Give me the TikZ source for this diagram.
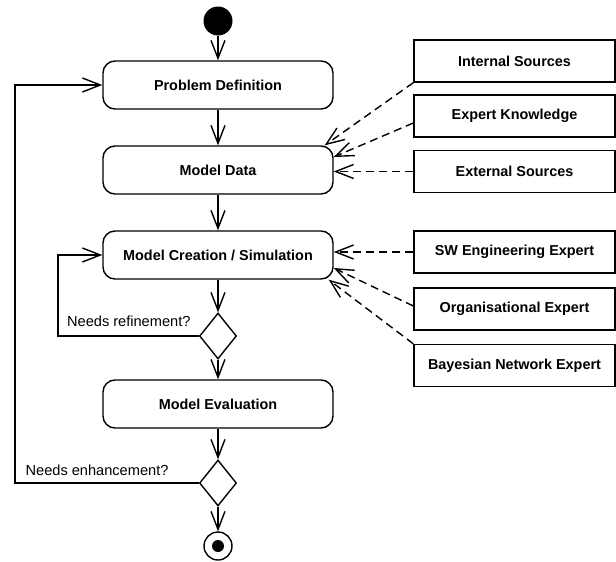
\documentclass[tikz,border=0pt]{standalone}
\usepackage{fontspec}
\setmainfont{Liberation Sans}
\usetikzlibrary{arrows.meta,shapes.geometric}

\begin{document}
\begin{tikzpicture}[x=1pt,y=-1pt,
  txt/.style={font=\fontsize{14.6}{16}\selectfont},
  act/.style={draw, line width=1.4pt, rounded corners=12pt,
    minimum width=230pt, minimum height=48pt,
    font=\fontsize{14.4}{16}\selectfont\bfseries},
  src/.style={draw, line width=1.4pt, minimum width=201pt, minimum height=42pt,
    font=\fontsize{14.4}{16}\selectfont\bfseries},
  dec/.style={draw, diamond, line width=1.4pt, minimum width=37pt,
    minimum height=46pt, inner sep=0pt},
  flow/.style={line width=1.4pt,
    -{Straight Barb[length=18pt,width=14pt,line width=1.4pt]}},
  dep/.style={flow, dash pattern=on 8pt off 5pt},
  ]
  \useasboundingbox (0,0) rectangle (616,562);
  \fill[white] (0,0) rectangle (616,562);

  % main activity flow
  \node[circle, fill, minimum size=29pt, inner sep=0pt] (start) at (218,21) {};
  \node[act] (pd) at (218,85)  {Problem Definition};
  \node[act] (md) at (218,170) {Model Data};
  \node[act] (mc) at (218,255) {Model Creation / Simulation};
  \node[dec] (d1) at (218,336) {};
  \node[act] (me) at (218,404) {Model Evaluation};
  \node[dec] (d2) at (218,483) {};
  \node[circle, draw, line width=1.4pt, minimum size=28pt, inner sep=0pt] (fin) at (218,546) {};
  \node[circle, fill, minimum size=12pt, inner sep=0pt] (finin) at (fin) {};

  % input sources
  \node[src] (is) at (514.5,61)    {Internal Sources};
  \node[src] (ek) at (514.5,116)   {Expert Knowledge};
  \node[src] (es) at (514.5,171.5) {External Sources};
  \node[src] (sw) at (514.5,252)   {SW Engineering Expert};
  \node[src] (og) at (514.5,309)   {Organisational Expert};
  \node[src] (bn) at (514.5,365.5) {Bayesian Network Expert};

  % loop-back columns
  \coordinate (lx1) at (58,0);
  \coordinate (lx2) at (15,0);

  \draw[flow] (start) -- (pd);
  \draw[flow] (pd) -- (md);
  \draw[flow] (md) -- (mc);
  \draw[flow] (mc) -- (d1.north);
  \draw[flow] (d1.south) -- (me);
  \draw[flow] (me) -- (d2.north);
  \draw[flow] (d2.south) -- (fin);

  \draw[flow] (d1.west) -- (d1.west -| lx1) |- (mc.west);
  \draw[flow] (d2.west) -- (d2.west -| lx2) |- (pd.west);

  \node[txt, anchor=base east] (lr) at (194,326) {Needs refinement?};
  \node[txt, anchor=base east] (le) at (172,475) {Needs enhancement?};

  % dependencies
  \draw[dep] (is.south west) -- ([xshift=-9pt]md.north east);
  \draw[dep] ([yshift=-7pt]ek.west) -- ([yshift=13pt]md.east);
  \draw[dep] (es.west) -- (es.west -| md.east);
  \draw[dep] (sw.west) -- (sw.west -| mc.east);
  \draw[dep] ([yshift=3pt]og.west) -- ([yshift=-13pt]mc.east);
  \draw[dep] (bn.north west) -- ([xshift=-5pt]mc.south east);
\end{tikzpicture}
\end{document}
